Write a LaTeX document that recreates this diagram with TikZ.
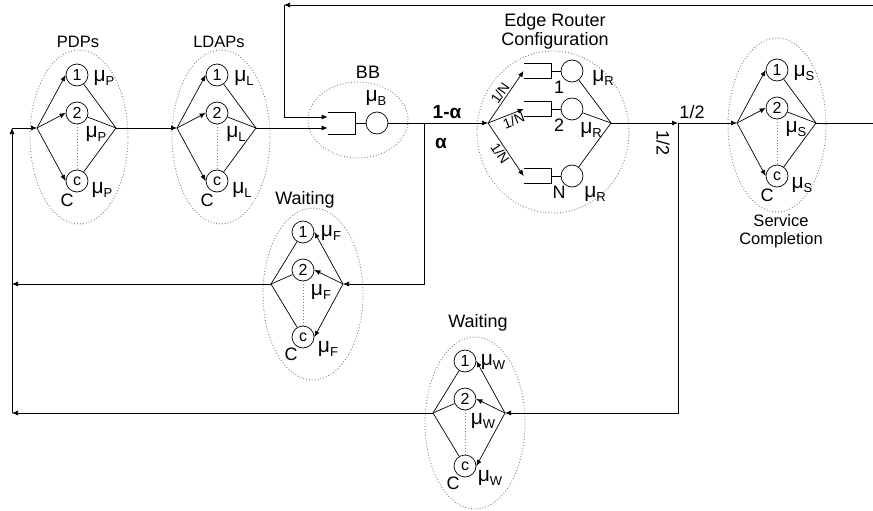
\documentclass[tikz,border=0pt]{standalone}
\usepackage{fontspec}
\setmainfont{Liberation Sans}
\usetikzlibrary{arrows.meta, positioning}

\newcommand{\rate}[1]{\fontsize{21}{21}\selectfont μ\raisebox{-0.2em}{\fontsize{13}{13}\selectfont #1}}

\begin{document}
\begin{tikzpicture}[
        x=1pt, y=-1pt,
        line width=0.7pt,
        server/.style={circle, draw, minimum size=22pt, inner sep=0pt, font=\fontsize{16}{16}\selectfont},
        queue/.style={rectangle, minimum width=27pt, inner sep=0pt},
        pool/.style={draw=gray, dotted, line width=0.9pt},
        lbl/.style={inner sep=0pt, font=\fontsize{18}{19}\selectfont, align=center},
        title/.style={inner sep=0pt, font=\fontsize{16.5}{17.5}\selectfont, align=center},
        greek/.style={inner sep=0pt, font=\bfseries\fontsize{19}{19}\selectfont},
        small/.style={inner sep=1.5pt, font=\fontsize{14}{14}\selectfont},
        tip/.style={-{Latex[length=6pt,width=5pt]}}
    ]
    \useasboundingbox (0,0) rectangle (873,511);

    % forward pools
    \foreach \grp/\x/\y/\ex/\ey/\s in {pdp/77/128/2/9/P, ldap/217/128/4/9/L, srv/777/123/0/2/S} {
        \draw[pool] (\x+\ex,\y+\ey) ellipse [x radius=49pt, y radius=87pt];
        \coordinate (\grp-in) at (\x-40,\y);
        \coordinate (\grp-out) at (\x+39,\y);
        \node[server] (\grp-1) at (\x,\y-53) {1};
        \node[server] (\grp-2) at (\x,\y-15) {2};
        \node[server] (\grp-c) at (\x,\y+53) {c};
        \draw[pool] (\grp-2) -- (\grp-c);
        \node[lbl] (\grp-m1) at (\x+27,\y-50) {\rate{\s}};
        \node[lbl] (\grp-m2) at (\x+19,\y+6) {\rate{\s}};
        \node[lbl] (\grp-mc) at (\x+25,\y+62) {\rate{\s}};
        \node[lbl] (\grp-C) at (\x-10,\y+72) {C};
        \foreach \k in {1,2,c} {
            \draw[tip] (\grp-in) -- (\grp-\k.west);
            \draw (\grp-\k) -- (\grp-out);
        }
    }

    % waiting pools (fed from the right)
    \foreach \grp/\x/\y/\s in {wf/303/284/F, ww/465/413/W} {
        \draw[pool] (\x+10,\y+10) ellipse [x radius=50pt, y radius=86pt];
        \coordinate (\grp-out) at (\x-32,\y);
        \coordinate (\grp-in) at (\x+40,\y);
        \node[server] (\grp-1) at (\x,\y-52) {1};
        \node[server] (\grp-2) at (\x,\y-14) {2};
        \node[server] (\grp-c) at (\x,\y+53) {c};
        \draw[pool] (\grp-2) -- (\grp-c);
        \node[lbl] (\grp-m1) at (\x+28,\y-51) {\rate{\s}};
        \node[lbl] (\grp-m2) at (\x+18,\y+8) {\rate{\s}};
        \node[lbl] (\grp-mc) at (\x+25,\y+65) {\rate{\s}};
        \node[lbl] (\grp-C) at (\x-12,\y+70) {C};
        \foreach \k in {1,2,c} {
            \draw[tip] (\grp-in) -- (\grp-\k.east);
            \draw (\grp-\k) -- (\grp-out);
        }
    }

    % BB
    \draw[pool] (358,120) ellipse [x radius=50pt, y radius=38pt];
    \node[queue, minimum height=21pt] (bb-q) at (341.5,123) {};
    \draw (bb-q.north west) -- (bb-q.north east) -- (bb-q.south east) -- (bb-q.south west);
    \node[server, minimum size=22pt] (bb-s) at (377,123) {};
    \draw (bb-q) -- (bb-s);

    % edge router
    \draw[pool] (553,132) ellipse [x radius=76pt, y radius=81pt];
    \coordinate (er-in) at (488,123);
    \coordinate (er-out) at (611,123);
    \foreach \i/\y/\mx/\my/\anc/\p in {1/71/31/7/south/0.5, 2/109/19/21/north/0.65, N/176/23/18/north/0.5} {
        \node[queue, minimum height=14pt] (er-q\i) at (537.5,\y) {};
        \draw (er-q\i.north west) -- (er-q\i.north east) -- (er-q\i.south east) -- (er-q\i.south west);
        \node[server, minimum size=22pt] (er-s\i) at (572,\y) {};
        \draw (er-q\i) -- (er-s\i);
        \node[lbl] (er-n\i) at (559,\y+16) {\i};
        \node[lbl] (er-m\i) at (572+\mx,\y+\my) {\rate{R}};
        \draw[tip] (er-in) -- node[small, sloped, anchor=\anc, pos=\p] {1/N} (er-q\i.west);
        \draw (er-s\i) -- (er-out);
    }

    % free ends
    \coordinate (fb-r) at (873,5);
    \coordinate (fb-l) at (284,5);
    \coordinate (alpha) at (424,123);
    \coordinate (split) at (678,123);
    \coordinate (srv-end) at (873,123);
    \coordinate (back-t) at (12,128);
    \coordinate (back-f) at (12,284);
    \coordinate (back-w) at (12,413);

    % connectors
    \draw[tip] (back-t) -- (pdp-in);
    \draw[tip] (pdp-out) -- (ldap-in);
    \draw[tip] (ldap-out) -- (ldap-out -| bb-q.west);
    \draw[tip] (fb-r) -- (fb-l);
    \draw[tip] (fb-l) |- ([yshift=6pt]bb-q.west);
    \draw[tip] (bb-s) -- (er-in);
    \draw[tip] (alpha) |- (wf-in);
    \draw[tip] (er-out) -- (split);
    \draw[tip] (split) -- (srv-in);
    \draw[tip] (split) |- (ww-in);
    \draw (srv-out) -- (srv-end);
    \draw[tip] (wf-out) -- (back-f);
    \draw[tip] (ww-out) -- (back-w);
    \draw[tip] (back-w) -- (back-t);

    % titles and branch labels
    \node[title] (pdp-t) at (78,42) {PDPs};
    \node[title] (ldap-t) at (219,42) {LDAPs};
    \node[lbl] (bb-t) at (368,72) {BB};
    \node[lbl] (bb-m) at (376,98) {\rate{B}};
    \node[lbl] (er-t) at (555,31) {Edge Router\\Configuration};
    \node[title] (srv-t) at (781,231) {Service\\Completion};
    \node[lbl] (wf-t) at (305,200) {Waiting};
    \node[lbl] (ww-t) at (478,323) {Waiting};
    \node[greek] (a1) at (447,112) {1-α};
    \node[greek] (a2) at (441,143) {α};
    \node[lbl] (half1) at (692,112) {1/2};
    \node[lbl, rotate=-90] (half2) at (663,143) {1/2};

\end{tikzpicture}
\end{document}
